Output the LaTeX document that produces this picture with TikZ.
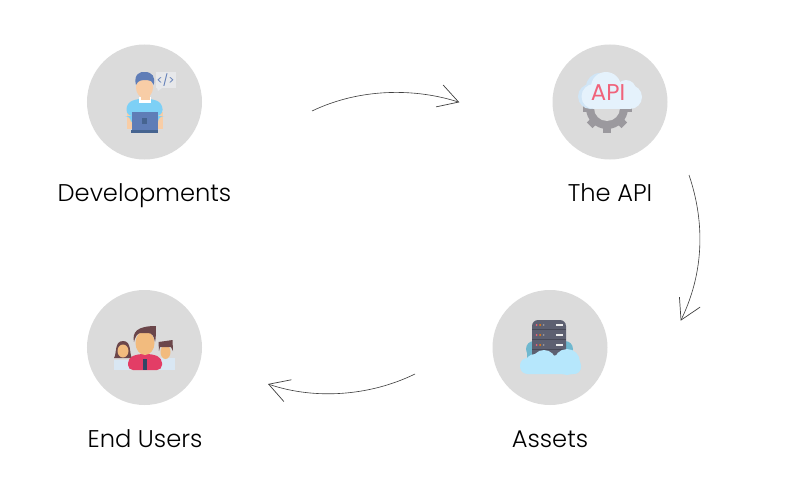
\documentclass[tikz,border=0pt]{standalone}
\usepackage{fontspec}
\setmainfont[UprightFont=* Light,BoldFont=*]{Poppins}
\usetikzlibrary{arrows.meta}
\definecolor{discgray}{HTML}{DBDBDB}
\definecolor{skin}{HTML}{F8CDA6}
\definecolor{tan}{HTML}{F2BB7E}
\definecolor{shirtblue}{HTML}{7DD0F6}
\definecolor{steel}{HTML}{5F7DB7}
\definecolor{steeldark}{HTML}{466490}
\definecolor{bubble}{HTML}{E7E8EA}
\definecolor{cloudlight}{HTML}{E5F2FC}
\definecolor{cloudshade}{HTML}{D0E5F6}
\definecolor{gear}{HTML}{9B999E}
\definecolor{apired}{HTML}{F0637B}
\definecolor{hair}{HTML}{6B464A}
\definecolor{crimson}{HTML}{E33D66}
\definecolor{paleshirt}{HTML}{D9E7F3}
\definecolor{server}{HTML}{5D6071}
\definecolor{serverdark}{HTML}{474957}
\definecolor{cloudback}{HTML}{6FB8CF}
\definecolor{cloudfront}{HTML}{B6E7FC}

\begin{document}
\begin{tikzpicture}[x=0.2mm,y=-0.2mm,
	disc/.style={circle,fill=discgray,minimum size=23mm,inner sep=0pt},
	caption/.style={font=\fontsize{13.75}{16}\selectfont,text=black,anchor=base},
	flow/.style={line width=0.35pt,draw=black!75,-{Straight Barb[length=4mm,width=4.6mm,line width=0.4pt]}}]
	\useasboundingbox (0,0) rectangle (800,500);
	\fill[white] (0,0) rectangle (800,500);
	\node[disc] (developments) at (144.5,102) {};
	\node[disc] (theapi) at (610,102) {};
	\node[disc] (endusers) at (144.5,347.5) {};
	\node[disc] (assets) at (550,347.5) {};
	\node[caption] (developmentstext) at (144.5,201) {Developments};
	\node[caption] (theapitext) at (610,201) {The API};
	\node[caption] (enduserstext) at (145,447.5) {End Users};
	\node[caption] (assetstext) at (550,447.5) {Assets};
	% developer with laptop
	\fill[bubble] (156,72) rectangle (175.5,88); % speech bubble
	\fill[bubble] (157,88) -- (162,88) -- (158,91) -- cycle;
	\node[inner sep=0pt,text=steel,font=\fontsize{6.5}{7}\selectfont\bfseries] (codetag) at (165.5,80) {</>};
	\fill[skin] (127,112) rectangle (132,129); % arms
	\fill[skin] (157,112) rectangle (162.5,129);
	\fill[shirtblue,rounded corners=1.2mm] (126.5,116) -- (126.5,103) -- (138,98.5) -- (151,98.5) -- (162.5,103) -- (162.5,116) -- (158,116) -- (158,125) -- (131,125) -- (131,116) -- cycle; % shirt
	\fill[white] (139,97) rectangle (150.5,102.5); % collar
	\fill[skin] (140.5,92) rectangle (149.5,100); % neck
	\fill[skin] (144.5,87.5) ellipse (8.5 and 10.5); % head
	\fill[steel] (136,85) .. controls (133,74) and (141,71) .. (145,72) .. controls (152,72) and (156,77) .. (153.5,85) .. controls (152,81) and (150,80) .. (147,80) .. controls (142,80) and (138,80) .. (136,85) -- cycle; % hair
	\fill[steel] (132,112) rectangle (157.5,129.5); % laptop
	\fill[steeldark] (131,129.5) rectangle (158,133);
	\fill[steeldark] (142,118) rectangle (147,124);
	% cog under the cloud
	\foreach \a in {0,45,...,315} {
		\fill[gear,rotate around={\a:(607,108)}] (603,83.5) rectangle (611,92);
	}
	\fill[gear] (607,108) circle (21);
	\fill[discgray] (607,108) circle (13);
	\fill[cloudshade] (590.5,96.5) circle (12.5); % cloud
	\fill[cloudshade] (600,87) circle (14);
	\fill[cloudlight] (594,96.5) circle (12.5);
	\fill[cloudlight] (606,87) circle (15);
	\fill[cloudlight] (626,90) circle (10);
	\fill[cloudlight] (630,97) circle (12);
	\fill[cloudlight] (594,90) rectangle (630,109);
	\node[inner sep=0pt,text=apired,font=\fontsize{13}{15}\selectfont\bfseries] (apitag) at (608,93) {API};
	% three users
	\fill[hair] (114,358) .. controls (117,354) and (114,341) .. (123,341) .. controls (132,341) and (129,354) .. (132,358) -- cycle; % woman
	\fill[paleshirt] (114,359.5) rectangle (131,370);
	\fill[tan] (123,351) ellipse (5.5 and 6.5);
	\fill[paleshirt] (159,358) rectangle (175,370); % man right
	\fill[tan] (165.5,352) ellipse (5 and 7);
	\fill[hair] (159,351) -- (158.5,342) -- (172.5,340) -- (173,351) -- (171,347) -- (160,347) -- cycle;
	\fill[crimson,rounded corners=1mm] (128,370) -- (128,358) -- (138,354) -- (152,354) -- (162,358) -- (162,370) -- cycle; % man centre
	\fill[tan] (145,343) ellipse (9.5 and 12);
	\fill[hair] (134,342) .. controls (132,332) and (137,326) .. (156,326) .. controls (156,332) and (156,338) .. (155,342) .. controls (154,336) and (152,333) .. (148,333) -- (140,333) .. controls (137,334) and (135,337) .. (134,342) -- cycle;
	\fill[steeldark!70!black] (143,359) rectangle (147,370);
	% servers and clouds
	\fill[cloudback] (527,345) rectangle (571,359);
	\fill[cloudback] (534,349) circle (8);
	\fill[cloudback] (565,349) circle (8);
	\fill[server,rounded corners=1.2mm] (532,320) rectangle (566,364);
	\foreach \y in {329,339,349} {
		\fill[serverdark] (532,\y) rectangle (566,\y+1);
	}
	\foreach \y in {325,335,345,354.5} {
		\fill[apired] (536.5,\y) circle (1);
		\fill[orange] (540,\y) circle (1);
		\fill[gear] (543.5,\y) circle (1);
	}
	\foreach \y in {325,335,345} {
		\fill[white!85!gray] (556,\y-1) rectangle (563,\y+1);
	}
	\fill[cloudfront,rounded corners=1.5mm] (520,358) rectangle (581,374); % front cloud
	\fill[cloudfront] (535,364) circle (10);
	\fill[cloudfront] (544,362) circle (12);
	\fill[cloudfront] (557,364) circle (9);
	\fill[cloudfront] (567,362) circle (13);
	\fill[cloudfront] (574,367) circle (7);
	% arrows between the steps
	\coordinate (devout) at (312,111);
	\coordinate (apiin) at (459.3,102.3);
	\coordinate (apiout) at (689,175);
	\coordinate (assetsin) at (680.7,320.7);
	\coordinate (assetsout) at (415,374);
	\coordinate (usersin) at (268,384);
	\draw[flow] (devout) .. controls (360,88) and (415,88) .. (apiin);
	\draw[flow] (apiout) .. controls (706,225) and (703,275) .. (assetsin);
	\draw[flow] (assetsout) .. controls (370,396) and (315,400) .. (usersin);
\end{tikzpicture}
\end{document}
